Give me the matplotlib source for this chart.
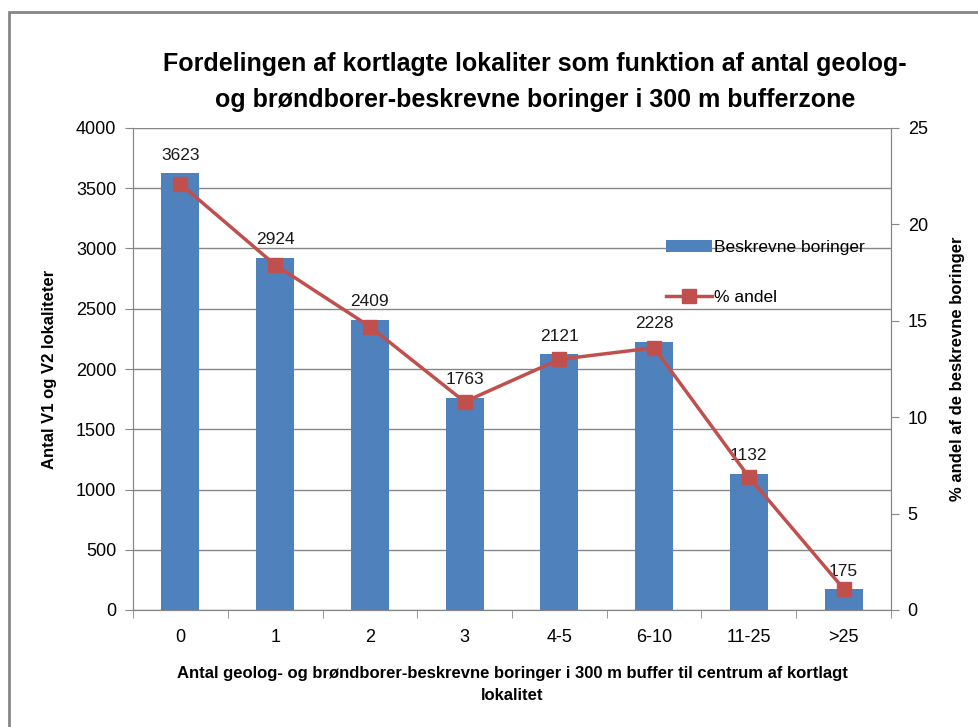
import matplotlib.pyplot as plt
import matplotlib.patches as patches
import numpy as np

plt.rcParams['font.family'] = ['Liberation Sans Narrow', 'Liberation Sans', 'DejaVu Sans']

categories = ['0', '1', '2', '3', '4-5', '6-10', '11-25', '>25']
counts = [3623, 2924, 2409, 1763, 2121, 2228, 1132, 175]
percent = [22.1, 17.9, 14.7, 10.8, 13.0, 13.6, 6.9, 1.1]

bar_color = '#4F81BD'
line_color = '#C0504D'
axis_gray = '#868686'

fig = plt.figure(figsize=(9.79, 7.27), dpi=100)
ax = fig.add_axes([133 / 979, 1 - 610 / 727, (891 - 133) / 979, (610 - 128) / 727])
ax2 = ax.twinx()

x = np.arange(len(categories))
bars = ax.bar(x, counts, width=0.4, color=bar_color, zorder=2, label='Beskrevne boringer')
for xi, v in zip(x, counts):
    ax.text(xi, v + 85, str(v), ha='center', va='bottom', fontsize=12.5, color='#1a1a1a')

line, = ax2.plot(x, percent, color=line_color, linewidth=2.5, marker='s', markersize=10,
                 zorder=3, label='% andel')

ax.set_xlim(-0.5, len(categories) - 0.5)
ax.set_ylim(0, 4000)
ax.set_yticks(range(0, 4001, 500))
ax2.set_ylim(0, 25)
ax2.set_yticks(range(0, 26, 5))
ax.grid(axis='y', color=axis_gray, linewidth=1, zorder=0)
ax.set_axisbelow(True)

ax.set_xticks(x)
ax.set_xticklabels(categories)
ax.set_xticks(np.arange(-0.5, len(categories)), minor=True)
ax.tick_params(axis='x', which='major', length=0, pad=14, labelsize=13)
ax.tick_params(axis='x', which='minor', length=6, color=axis_gray)
ax.tick_params(axis='y', length=6, color=axis_gray, labelsize=13, pad=6)
ax2.tick_params(axis='y', length=6, color=axis_gray, labelsize=13, pad=6)

for a in (ax, ax2):
    a.spines['top'].set_visible(False)
    for side in ('left', 'right', 'bottom'):
        a.spines[side].set_color(axis_gray)

ax.set_ylabel('Antal V1 og V2 lokaliteter', fontsize=12, fontweight='bold', labelpad=14)
ax2.set_ylabel('% andel af de beskrevne boringer', fontsize=12, fontweight='bold', labelpad=16)
ax.set_xlabel('Antal geolog- og brøndborer-beskrevne boringer i 300 m buffer til centrum af kortlagt\nlokalitet',
              fontsize=12, fontweight='bold', labelpad=14, linespacing=1.6)

fig.text(535 / 979, 1 - 82 / 727,
         'Fordelingen af kortlagte lokaliter som funktion af antal geolog-\nog brøndborer-beskrevne boringer i 300 m bufferzone',
         ha='center', va='center', fontsize=18, fontweight='bold', linespacing=1.6)

fig.legend(handles=[bars, line], loc='upper left', bbox_to_anchor=(650 / 979, 1 - 224 / 727),
           frameon=False, fontsize=12.5, labelspacing=2.0, handlelength=2.7, handletextpad=0.1)

fig.patches.append(patches.Rectangle((9 / 979, -0.1), 1.2, 1 - 12 / 727 + 0.1,
                                     transform=fig.transFigure, fill=False,
                                     edgecolor=axis_gray, linewidth=2))

plt.savefig('out.png', dpi=100)
plt.close()
